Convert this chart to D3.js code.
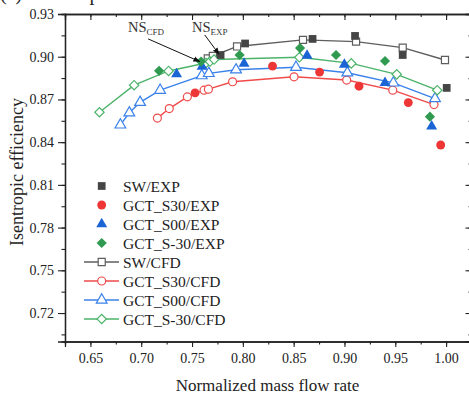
<!DOCTYPE html>
<html>
<head>
<meta charset="utf-8">
<script src="https://cdn.jsdelivr.net/npm/d3@7"></script>
<style>
  body { margin: 0; background: #fff; }
  svg { display: block; font-family: "Liberation Serif", "Times New Roman", serif; }
</style>
</head>
<body>
<svg id="chart" width="469" height="396"></svg>
<script>
// measured values (normalized mass flow rate, isentropic efficiency)
const swExp = [[0.7781, 0.9012], [0.8022, 0.9093], [0.8686, 0.9125], [0.9104, 0.9146], [0.9573, 0.9012], [1.0006, 0.8781]];
const s30Exp = [[0.7530, 0.8746], [0.8292, 0.8934], [0.8755, 0.8892], [0.9143, 0.8793], [0.9628, 0.8678], [0.9947, 0.8380]];
const s00Exp = [[0.7348, 0.8878], [0.7599, 0.8931], [0.8012, 0.8952], [0.8632, 0.9008], [0.8999, 0.8945], [0.9399, 0.8816], [0.9858, 0.8511]];
const sm30Exp = [[0.7176, 0.8901], [0.7589, 0.8966], [0.7968, 0.9012], [0.8563, 0.9061], [0.8917, 0.9012], [0.9399, 0.8970], [0.9841, 0.8579]];

// computed values
const swCfd = [[0.7655, 0.8988], [0.7705, 0.9005], [0.7943, 0.9072], [0.8592, 0.9118], [0.9114, 0.9106], [0.9573, 0.9064], [0.9989, 0.8977]];
const s30Cfd = [[0.7159, 0.8569], [0.7276, 0.8636], [0.7454, 0.8718], [0.7618, 0.8765], [0.7661, 0.8772], [0.7899, 0.8824], [0.8504, 0.8859], [0.9022, 0.8836], [0.9475, 0.8765], [0.9881, 0.8664]];
const s00Cfd = [[0.6795, 0.8521], [0.6883, 0.8606], [0.6989, 0.8680], [0.7186, 0.8765], [0.7596, 0.8867], [0.7665, 0.8883], [0.7933, 0.8908], [0.8523, 0.8926], [0.9028, 0.8887], [0.9481, 0.8816], [0.9891, 0.8706]];
const sm30Cfd = [[0.6589, 0.8610], [0.6930, 0.8800], [0.7269, 0.8900], [0.7638, 0.8956], [0.7677, 0.8966], [0.7717, 0.8980], [0.8556, 0.8996], [0.9067, 0.8953], [0.9514, 0.8876], [0.9913, 0.8765]];

const xTicks = [0.65, 0.70, 0.75, 0.80, 0.85, 0.90, 0.95, 1.00];
const yTicks = [0.72, 0.75, 0.78, 0.81, 0.84, 0.87, 0.90, 0.93];

// annotations: [label, subscript, text anchor point, arrow tail, arrow head]
const notes = [
  ['NS', 'CFD', [0.6870, 0.9176], [0.7068, 0.9125], [0.7575, 0.8966]],
  ['NS', 'EXP', [0.7500, 0.9176], [0.7625, 0.9153], [0.7765, 0.9018]]
];

const series = [
  { name: 'SW/EXP', data: swExp, shape: 'square', fill: '#454545', stroke: 'none', line: false },
  { name: 'GCT_S30/EXP', data: s30Exp, shape: 'circle', fill: '#ee3636', stroke: 'none', line: false },
  { name: 'GCT_S00/EXP', data: s00Exp, shape: 'triangle', fill: '#1a64d6', stroke: 'none', line: false },
  { name: 'GCT_S-30/EXP', data: sm30Exp, shape: 'diamond', fill: '#2f9a50', stroke: 'none', line: false },
  { name: 'SW/CFD', data: swCfd, shape: 'square', fill: '#fff', stroke: '#5e5e5e', line: true },
  { name: 'GCT_S30/CFD', data: s30Cfd, shape: 'circle', fill: '#fff', stroke: '#f04a4a', line: true },
  { name: 'GCT_S00/CFD', data: s00Cfd, shape: 'triangle', fill: '#fff', stroke: '#3a82ea', line: true },
  { name: 'GCT_S-30/CFD', data: sm30Cfd, shape: 'diamond', fill: '#fff', stroke: '#4cb36a', line: true }
];

const MARGIN = { top: 14, right: -2.5, bottom: 54.5, left: 65 };
const W = 469 - MARGIN.left - MARGIN.right;
const H = 396 - MARGIN.top - MARGIN.bottom;

const svg = d3.select('#chart');

// panel caption, mostly cut off by the top edge as in the source figure
svg.append('text')
  .attr('x', 0).attr('y', -0.5)
  .attr('font-size', 20).attr('fill', '#222')
  .text('(a)')
  .append('tspan').attr('x', 34).text('Isentropic');

const g = svg.append('g').attr('transform', `translate(${MARGIN.left},${MARGIN.top})`);

const x = d3.scaleLinear().domain([0.625, 1.025]).range([0, W]);
const y = d3.scaleLinear().domain([0.70, 0.93]).range([H, 0]);

const minorX = d3.range(0.625, 1.0251, 0.025);
const minorY = d3.range(0.705, 0.9301, 0.015);

function styleAxis(sel) {
  sel.select('.domain').attr('stroke', '#222').attr('stroke-width', 1.3);
  sel.selectAll('.tick line').attr('stroke', '#222').attr('stroke-width', 1.1);
  sel.selectAll('.tick text').attr('fill', '#222').attr('font-size', 14)
    .attr('font-family', '"Liberation Serif", "Times New Roman", serif');
}

// minor ticks
g.append('g').attr('transform', `translate(0,${H})`)
  .call(d3.axisBottom(x).tickValues(minorX).tickSize(3).tickFormat(''))
  .call(styleAxis);
g.append('g').call(d3.axisTop(x).tickValues(minorX).tickSize(-3).tickFormat(''))
  .call(styleAxis);
g.append('g').call(d3.axisLeft(y).tickValues(minorY).tickSize(3.5).tickFormat(''))
  .call(styleAxis);
g.append('g').attr('transform', `translate(${W},0)`)
  .call(d3.axisRight(y).tickValues(minorY).tickSize(-3).tickFormat(''))
  .call(styleAxis);

// major ticks
g.append('g').attr('transform', `translate(0,${H})`)
  .call(d3.axisBottom(x).tickValues(xTicks).tickSize(5.5).tickPadding(6).tickFormat(d3.format('.2f')))
  .call(styleAxis);
g.append('g').call(d3.axisTop(x).tickValues(xTicks).tickSize(-6).tickFormat(''))
  .call(styleAxis);
g.append('g').call(d3.axisLeft(y).tickValues(yTicks).tickSize(7).tickPadding(4).tickFormat(d3.format('.2f')))
  .call(styleAxis);
g.append('g').attr('transform', `translate(${W},0)`)
  .call(d3.axisRight(y).tickValues(yTicks).tickSize(-6).tickFormat(''))
  .call(styleAxis);

svg.append('text')
  .attr('x', 267.5).attr('y', 391)
  .attr('text-anchor', 'middle').attr('font-size', 17).attr('fill', '#222')
  .text('Normalized mass flow rate');

svg.append('text')
  .attr('transform', 'translate(23,172) rotate(-90)')
  .attr('text-anchor', 'middle').attr('font-size', 18).attr('fill', '#222')
  .text('Isentropic efficiency');

const shapes = {
  square: { type: d3.symbolSquare, rot: 0 },
  circle: { type: d3.symbolCircle, rot: 0 },
  triangle: { type: d3.symbolTriangle, rot: 0 },
  diamond: { type: d3.symbolSquare, rot: 45 }
};
const sizes = { square: 60, circle: 62, triangle: 52, diamond: 52 };
const openSizes = { square: 50, circle: 50, triangle: 50, diamond: 44 };

function marker(sel, s) {
  const sz = s.line ? openSizes[s.shape] : sizes[s.shape];
  sel.attr('d', d3.symbol().type(shapes[s.shape].type).size(sz)())
    .attr('fill', s.fill)
    .attr('stroke', s.stroke)
    .attr('stroke-width', 1.2);
}

const line = d3.line().x(d => x(d[0])).y(d => y(d[1]));

// CFD curves first, then experiments on top
const order = series.filter(s => s.line).concat(series.filter(s => !s.line));
order.forEach(s => {
  const sg = g.append('g');
  if (s.line) {
    sg.append('path').datum(s.data)
      .attr('d', line).attr('fill', 'none')
      .attr('stroke', s.stroke).attr('stroke-width', 1.4);
  }
  sg.selectAll('path.pt').data(s.data).enter().append('path')
    .attr('class', 'pt')
    .attr('transform', d => `translate(${x(d[0])},${y(d[1])}) rotate(${shapes[s.shape].rot})`)
    .call(marker, s);
});

// annotations
const defs = svg.append('defs');
defs.append('marker').attr('id', 'arrow')
  .attr('viewBox', '0 0 10 10').attr('refX', 9).attr('refY', 5)
  .attr('markerWidth', 7).attr('markerHeight', 7).attr('orient', 'auto')
  .append('path').attr('d', 'M0,1 L10,5 L0,9 Z').attr('fill', '#111');

notes.forEach(n => {
  const t = g.append('text')
    .attr('x', x(n[2][0])).attr('y', y(n[2][1]))
    .attr('font-size', 14.5).attr('fill', '#333')
    .text(n[0]);
  t.append('tspan').attr('font-size', 9).attr('dy', 3.5).text(n[1]);
  g.append('line')
    .attr('x1', x(n[3][0])).attr('y1', y(n[3][1]))
    .attr('x2', x(n[4][0])).attr('y2', y(n[4][1]))
    .attr('stroke', '#111').attr('stroke-width', 1)
    .attr('marker-end', 'url(#arrow)');
});

// legend
const legend = svg.append('g').attr('transform', 'translate(84,186)');
series.forEach((s, i) => {
  const row = legend.append('g').attr('transform', `translate(0,${i * 19})`);
  if (s.line) {
    row.append('line').attr('x1', 0).attr('x2', 35).attr('y1', 0).attr('y2', 0)
      .attr('stroke', s.stroke).attr('stroke-width', 1.4);
  }
  row.append('path')
    .attr('transform', `translate(17.7,0) rotate(${shapes[s.shape].rot})`)
    .call(marker, s);
  row.append('text')
    .attr('x', 39).attr('y', 5.5)
    .attr('font-size', 15.5).attr('fill', '#222')
    .text(s.name);
});
</script>
</body>
</html>
